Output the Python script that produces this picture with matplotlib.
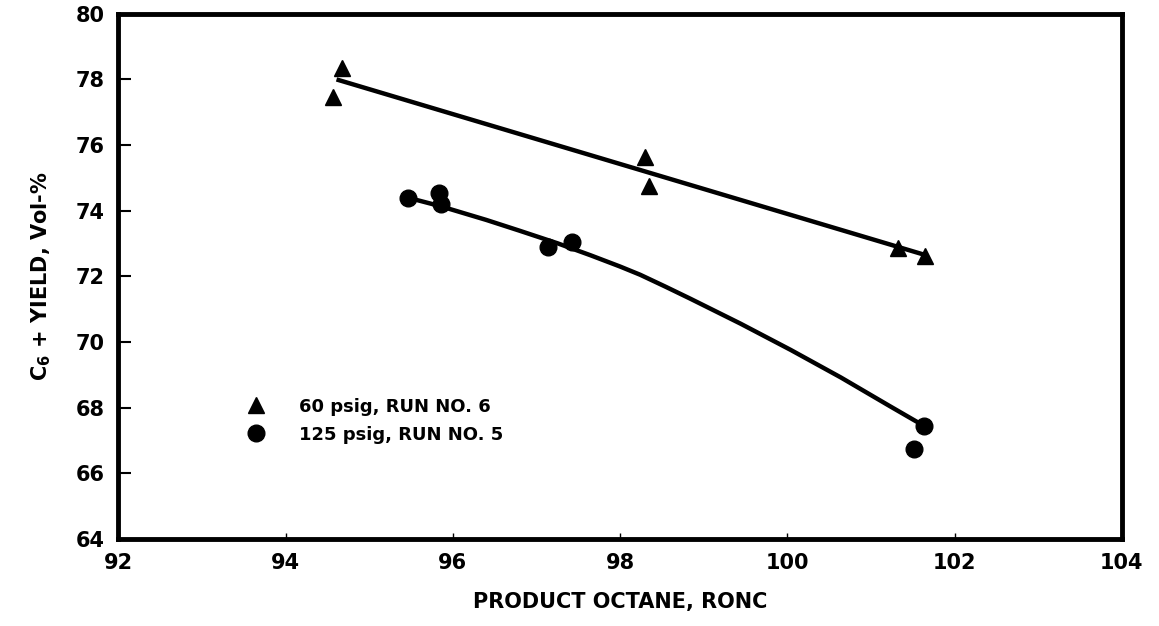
import numpy as np
import matplotlib.pyplot as plt

plt.rcParams.update({'font.family': 'DejaVu Sans', 'font.weight': 'bold', 'font.size': 15})

# 60 psig, run no. 6
run6_x = [94.57, 94.68, 98.30, 98.35, 101.32, 101.65]
run6_y = [77.45, 78.35, 75.65, 74.75, 72.87, 72.62]
# 125 psig, run no. 5
run5_x = [95.46, 95.84, 95.86, 97.14, 97.43, 101.51, 101.63]
run5_y = [74.40, 74.55, 74.20, 72.90, 73.05, 66.75, 67.45]

# curves drawn through the points
fit6_x = [94.61, 101.65]
fit6_y = [78.00, 72.65]
fit5_x = [95.46, 95.85, 96.40, 96.80, 97.25, 97.65, 98.00, 98.24, 98.54, 98.84, 99.44, 100.04, 100.64, 101.23, 101.63]
fit5_y = [74.40, 74.14, 73.72, 73.39, 73.01, 72.64, 72.30, 72.05, 71.69, 71.32, 70.56, 69.76, 68.92, 68.04, 67.45]

fig = plt.figure(figsize=(11.59, 6.26), dpi=100)
ax = fig.add_axes([0.102, 0.139, 0.866, 0.839])

ax.plot(fit6_x, fit6_y, color='black', lw=3.2, solid_capstyle='butt')
ax.plot(fit5_x, fit5_y, color='black', lw=3.2)
ax.plot(run6_x, run6_y, ls='', marker='^', ms=12, color='black', label='60 psig, RUN NO. 6')
ax.plot(run5_x, run5_y, ls='', marker='o', ms=12, color='black', label='125 psig, RUN NO. 5')

ax.set_xlim(92, 104)
ax.set_ylim(64, 80)
ax.set_xticks(np.arange(92, 105, 2))
ax.set_yticks(np.arange(64, 81, 2))

for s in ax.spines.values():
    s.set_linewidth(3.5)
ax.tick_params(axis='y', direction='in', length=9, width=1.5, pad=10, labelsize=15)
ax.tick_params(axis='x', direction='in', length=4, width=1, pad=10, labelsize=15)

ax.set_xlabel('PRODUCT OCTANE, RONC', fontsize=15, fontweight='bold', labelpad=14)
ax.set_ylabel('C$_\\mathbf{6}$ + YIELD, Vol-%', fontsize=15, fontweight='bold', labelpad=16)

ax.legend(loc='upper left', bbox_to_anchor=(0.108, 0.30), frameon=False,
          handletextpad=1.6, labelspacing=0.55, fontsize=13, handlelength=1.5)

plt.savefig('out.png', dpi=100)
